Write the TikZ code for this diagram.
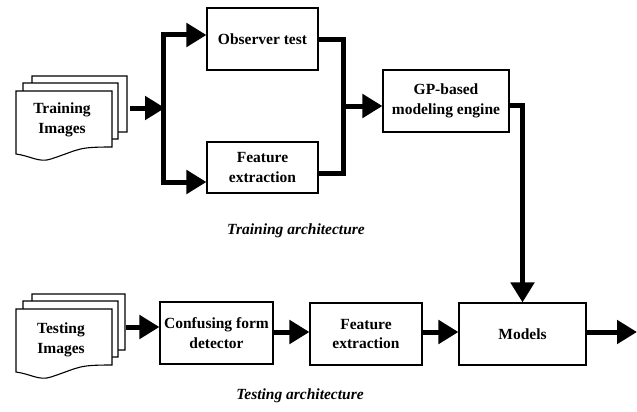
\documentclass[tikz,border=0pt]{standalone}
\usepackage{fontspec}
\setmainfont{Liberation Serif}
\usetikzlibrary{arrows.meta}
\tikzset{
  box/.style={draw, line width=1.1pt, fill=white, align=center, inner sep=0pt,
    font=\fontsize{15.5}{19.5}\selectfont\bfseries},
  flow/.style={line width=5pt, -{Triangle[length=20pt,width=23pt]}},
  bar/.style={line width=5pt},
  doc/.style={draw, line width=1.1pt, fill=white},
  lbl/.style={font=\fontsize{15.5}{19}\selectfont\bfseries\itshape},
  doctext/.style={align=center, font=\fontsize{15.5}{20}\selectfont\bfseries},
}
\newcommand{\docshape}[3]{% x, y(top), w
  \path[doc] (#1,#2) -- ++(#3,0) -- ++(0,56)
    .. controls ++(-35,0) and ++(30,-10) .. ++(-#3+35,12)
    .. controls ++(-12,4) and ++(15,2) .. ++(-35,-5) -- cycle;
}
\begin{document}
\begin{tikzpicture}[x=1pt,y=-1pt]
\useasboundingbox (0,0) rectangle (637,412);
% Training images stack
\docshape{32}{76}{95}
\docshape{23}{83}{95}
\docshape{16}{91}{96}
\node[doctext] (trimg) at (62,120) {Training\\Images};
% Testing images stack
\docshape{32}{294}{93}
\docshape{23}{301}{95}
\docshape{16}{309}{96}
\node[doctext] (teimg) at (61,340) {Testing\\Images};

% boxes
\node[box, minimum width=111pt, minimum height=62pt] (obs) at (262.5,39) {Observer test};
\node[box, minimum width=111pt, minimum height=51pt] (fe1) at (262.5,167.5) {Feature\\extraction};
\node[box, minimum width=126pt, minimum height=62pt] (gp) at (446,101) {GP-based\\modeling engine};
\node[box, minimum width=113pt, minimum height=62pt] (cfd) at (216.5,333) {Confusing form\\detector};
\node[box, minimum width=112pt, minimum height=62pt] (fe2) at (366,334) {Feature\\extraction};
\node[box, minimum width=127pt, minimum height=62pt] (models) at (522.5,334) {Models};

\node[lbl] (trl) at (296,231) {Training architecture};
\node[lbl] (tel) at (300,396) {Testing architecture};

% coordinates
\coordinate (trout) at (130,108);
\coordinate (j1) at (165,108);
\coordinate (jt) at (163,35);
\coordinate (jb) at (163,182);
\coordinate (mt) at (343,40);
\coordinate (mb) at (343,173);
\coordinate (mm) at (343,106);
\coordinate (teout) at (126,327);
\coordinate (out) at (637,332);

% training connectors
\draw[flow] (trout) -- (j1);
\draw[bar, line cap=rect] (jt) -- (jb);
\draw[flow] (jt) -- (jt -| obs.west);
\draw[flow] (jb) -- (jb -| fe1.west);
\draw[bar] (obs.east |- mt) -| (mb) -- (mb -| fe1.east);
\draw[flow] (mm) -- (mm -| gp.west);
\draw[flow] ([yshift=-4pt]gp.east) -| (models.north);

% testing connectors
\draw[flow] (teout) -- (teout -| cfd.west);
\draw[flow] (cfd.east |- 0,332) -- (fe2.west |- 0,332);
\draw[flow] (fe2.east |- 0,332) -- (models.west |- 0,332);
\draw[flow] (models.east |- out) -- (out);
\end{tikzpicture}
\end{document}
